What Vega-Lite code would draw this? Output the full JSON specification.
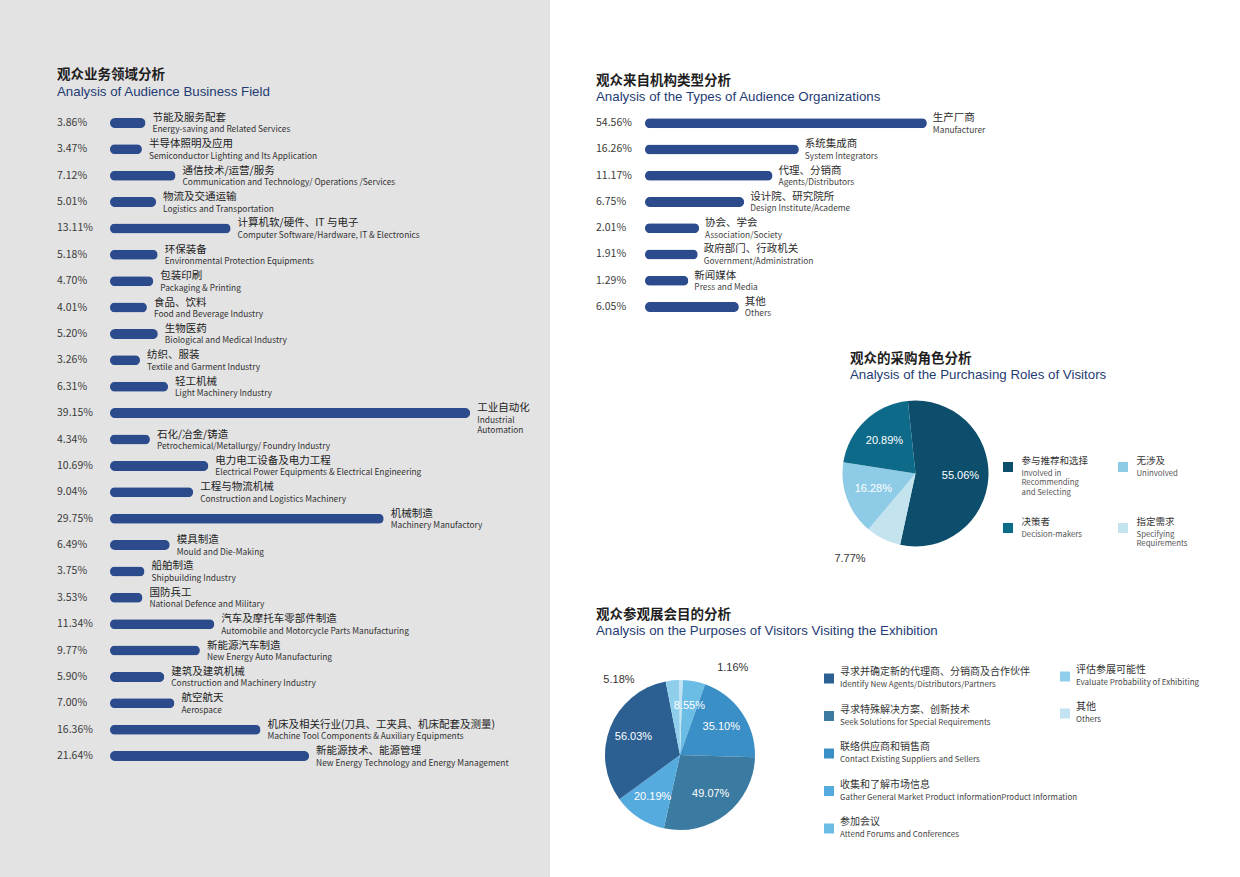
{
  "$schema": "https://vega.github.io/schema/vega-lite/v6.json",
  "background": "#ffffff",
  "padding": 0,
  "spacing": 0,
  "resolve": {"scale": {"color": "independent", "theta": "independent"}},
  "config": {
    "view": {"stroke": null},
    "font": "Noto Sans CJK SC",
    "title": {"anchor": "start", "frame": "group", "font": "Noto Sans CJK SC", "fontSize": 13.5, "fontWeight": "bold", "color": "#1e1e1e", "subtitleFont": "Liberation Sans", "subtitleFontSize": 13.3, "subtitleColor": "#1f3b73", "subtitlePadding": 3}
  },
  "datasets": {
    "fields": [
      {"cn": "节能及服务配套", "en": "Energy-saving and Related Services", "pct": 3.86},
      {"cn": "半导体照明及应用", "en": "Semiconductor Lighting and Its Application", "pct": 3.47},
      {"cn": "通信技术/运营/服务", "en": "Communication and Technology/ Operations /Services", "pct": 7.12},
      {"cn": "物流及交通运输", "en": "Logistics and Transportation", "pct": 5.01},
      {"cn": "计算机软/硬件、IT 与电子", "en": "Computer Software/Hardware, IT & Electronics", "pct": 13.11},
      {"cn": "环保装备", "en": "Environmental Protection Equipments", "pct": 5.18},
      {"cn": "包装印刷", "en": "Packaging & Printing", "pct": 4.70},
      {"cn": "食品、饮料", "en": "Food and Beverage Industry", "pct": 4.01},
      {"cn": "生物医药", "en": "Biological and Medical Industry", "pct": 5.20},
      {"cn": "纺织、服装", "en": "Textile and Garment Industry", "pct": 3.26},
      {"cn": "轻工机械", "en": "Light Machinery Industry", "pct": 6.31},
      {"cn": "工业自动化", "en": "Industrial\nAutomation", "pct": 39.15},
      {"cn": "石化/冶金/铸造", "en": "Petrochemical/Metallurgy/ Foundry Industry", "pct": 4.34},
      {"cn": "电力电工设备及电力工程", "en": "Electrical Power Equipments & Electrical Engineering", "pct": 10.69},
      {"cn": "工程与物流机械", "en": "Construction and Logistics Machinery", "pct": 9.04},
      {"cn": "机械制造", "en": "Machinery Manufactory", "pct": 29.75},
      {"cn": "模具制造", "en": "Mould and Die-Making", "pct": 6.49},
      {"cn": "船舶制造", "en": "Shipbuilding Industry", "pct": 3.75},
      {"cn": "国防兵工", "en": "National Defence and Military", "pct": 3.53},
      {"cn": "汽车及摩托车零部件制造", "en": "Automobile and Motorcycle Parts Manufacturing", "pct": 11.34},
      {"cn": "新能源汽车制造", "en": "New Energy Auto Manufacturing", "pct": 9.77},
      {"cn": "建筑及建筑机械", "en": "Construction and Machinery Industry", "pct": 5.90},
      {"cn": "航空航天", "en": "Aerospace", "pct": 7.00},
      {"cn": "机床及相关行业(刀具、工夹具、机床配套及测量)", "en": "Machine Tool Components & Auxiliary Equipments", "pct": 16.36},
      {"cn": "新能源技术、能源管理", "en": "New Energy Technology and Energy Management", "pct": 21.64}
    ],
    "orgs": [
      {"cn": "生产厂商", "en": "Manufacturer", "pct": 54.56},
      {"cn": "系统集成商", "en": "System Integrators", "pct": 16.26},
      {"cn": "代理、分销商", "en": "Agents/Distributors", "pct": 11.17},
      {"cn": "设计院、研究院所", "en": "Design Institute/Academe", "pct": 6.75},
      {"cn": "协会、学会", "en": "Association/Society", "pct": 2.01},
      {"cn": "政府部门、行政机关", "en": "Government/Administration", "pct": 1.91},
      {"cn": "新闻媒体", "en": "Press and Media", "pct": 1.29},
      {"cn": "其他", "en": "Others", "pct": 6.05}
    ],
    "roles": [
      {"cn": "参与推荐和选择", "en": "Involved in\nRecommending\nand Selecting", "pct": 55.06},
      {"cn": "指定需求", "en": "Specifying\nRequirements", "pct": 7.77},
      {"cn": "无涉及", "en": "Uninvolved", "pct": 16.28},
      {"cn": "决策者", "en": "Decision-makers", "pct": 20.89}
    ],
    "purposes": [
      {"cn": "参加会议", "en": "Attend Forums and Conferences", "pct": 8.55},
      {"cn": "联络供应商和销售商", "en": "Contact Existing Suppliers and Sellers", "pct": 35.10},
      {"cn": "寻求特殊解决方案、创新技术", "en": "Seek Solutions for Special Requirements", "pct": 49.07},
      {"cn": "收集和了解市场信息", "en": "Gather General Market Product InformationProduct Information", "pct": 20.19},
      {"cn": "寻求并确定新的代理商、分销商及合作伙伴", "en": "Identify New Agents/Distributors/Partners", "pct": 56.03},
      {"cn": "评估参展可能性", "en": "Evaluate  Probability of Exhibiting", "pct": 5.18},
      {"cn": "其他", "en": "Others", "pct": 1.16}
    ]
  },
  "hconcat": [
    {
      "width": 550,
      "height": 877,
      "view": {"fill": "#e3e3e3", "stroke": null},
      "title": {"text": "观众业务领域分析", "subtitle": "Analysis of Audience Business Field", "dx": 57, "offset": -98},
      "data": {"name": "fields"},
      "transform": [{"calculate": "format(datum.pct, '.2f') + '%'", "as": "pctLabel"}],
      "encoding": {
        "y": {"field": "cn", "type": "nominal", "sort": null, "axis": null, "scale": {"range": [109.8, 769.2], "paddingInner": 0, "paddingOuter": 0}}
      },
      "layer": [
        {
          "mark": {"type": "bar", "size": 10, "cornerRadius": 5, "color": "#2b4b8d"},
          "encoding": {"x": {"field": "pct", "type": "quantitative", "axis": null, "scale": {"domain": [0, 39.15], "range": [110, 478]}}}
        },
        {
          "mark": {"type": "text", "align": "left", "baseline": "middle", "dx": -53, "fontSize": 10.5, "color": "#3a3a3a"},
          "encoding": {"x": {"datum": 0, "type": "quantitative"}, "text": {"field": "pctLabel"}}
        },
        {
          "mark": {"type": "text", "align": "left", "baseline": "middle", "dx": 7, "dy": -5, "fontSize": 10.5, "color": "#222222"},
          "encoding": {"x": {"field": "pct", "type": "quantitative"}, "text": {"field": "cn"}}
        },
        {
          "mark": {"type": "text", "align": "left", "baseline": "top", "dx": 7, "dy": 2.5, "fontSize": 8.4, "lineBreak": "\n", "lineHeight": 10, "color": "#333333"},
          "encoding": {"x": {"field": "pct", "type": "quantitative"}, "text": {"field": "en"}}
        }
      ]
    },
    {
      "spacing": 0,
      "resolve": {"scale": {"color": "independent", "theta": "independent"}},
      "vconcat": [
        {
          "width": 690,
          "height": 340,
          "title": {"text": "观众来自机构类型分析", "subtitle": "Analysis of the Types of Audience Organizations", "dx": 46, "offset": -103.5},
          "data": {"name": "orgs"},
          "transform": [{"calculate": "format(datum.pct, '.2f') + '%'", "as": "pctLabel"}],
          "encoding": {
            "y": {"field": "cn", "type": "nominal", "sort": null, "axis": null, "scale": {"range": [110, 320], "paddingInner": 0, "paddingOuter": 0}}
          },
          "layer": [
            {
              "mark": {"type": "bar", "size": 10, "cornerRadius": 5, "color": "#2b4b8d"},
              "encoding": {"x": {"field": "pct", "type": "quantitative", "axis": null, "scale": {"type": "sqrt", "domain": [0, 54.56], "range": [95, 378]}}}
            },
            {
              "mark": {"type": "text", "align": "left", "baseline": "middle", "dx": -49, "fontSize": 10.5, "color": "#3a3a3a"},
              "encoding": {"x": {"datum": 0, "type": "quantitative"}, "text": {"field": "pctLabel"}}
            },
            {
              "mark": {"type": "text", "align": "left", "baseline": "middle", "dx": 6, "dy": -5, "fontSize": 10.5, "color": "#2a2a2a"},
              "encoding": {"x": {"field": "pct", "type": "quantitative"}, "text": {"field": "cn"}}
            },
            {
              "mark": {"type": "text", "align": "left", "baseline": "top", "dx": 6, "dy": 2.5, "fontSize": 8.4, "color": "#444444"},
              "encoding": {"x": {"field": "pct", "type": "quantitative"}, "text": {"field": "en"}}
            }
          ]
        },
        {
          "title": {"text": "观众的采购角色分析", "subtitle": "Analysis of the Purchasing Roles of Visitors", "dx": 300, "offset": -41.5},
          "spacing": 0,
          "bounds": "flush",
          "hconcat": [
            {"width": 290, "height": 10, "data": {"values": []}, "mark": "point"},
            {
              "width": 151,
              "height": 267,
              "data": {"name": "roles"},
              "transform": [
                {"window": [{"op": "row_number", "as": "ord"}]},
                {"calculate": "format(datum.pct, '.2f') + '%'", "as": "pctLabel"}
              ],
              "encoding": {
                "theta": {"field": "pct", "type": "quantitative", "stack": true, "scale": {"range": [-0.105, 6.178]}},
                "order": {"field": "ord", "type": "quantitative"},
                "color": {"field": "cn", "type": "nominal", "legend": null, "scale": {"domain": ["参与推荐和选择", "决策者", "无涉及", "指定需求"], "range": ["#0c4e6b", "#0d6a89", "#8ecbe6", "#c3e3ef"]}}
              },
              "layer": [
                {"mark": {"type": "arc", "outerRadius": 73}},
                {
                  "mark": {"type": "text", "radius": 45, "fontSize": 11, "font": "Liberation Sans"},
                  "encoding": {"color": {"value": "#ffffff"}, "text": {"condition": {"test": "datum.pct >= 10", "field": "pctLabel"}, "value": ""}}
                },
                {
                  "mark": {"type": "text", "radius": 95, "align": "right", "dx": -8, "fontSize": 11, "font": "Liberation Sans"},
                  "encoding": {"color": {"value": "#333333"}, "text": {"condition": {"test": "datum.pct < 10", "field": "pctLabel"}, "value": ""}}
                }
              ]
            },
            {"width": 12, "height": 10, "data": {"values": []}, "mark": "point"},
            {
              "width": 10,
              "height": 267,
              "data": {"name": "roles"},
              "transform": [{"filter": {"field": "cn", "oneOf": ["参与推荐和选择", "决策者"]}}],
              "encoding": {"y": {"field": "cn", "type": "nominal", "sort": ["参与推荐和选择", "决策者"], "axis": null, "scale": {"range": [96.5, 218.5], "paddingInner": 0, "paddingOuter": 0}}},
              "layer": [
                {"mark": {"type": "point", "shape": "square", "size": 100, "filled": true, "opacity": 1}, "encoding": {"color": {"field": "cn", "type": "nominal", "legend": null, "scale": {"domain": ["参与推荐和选择", "决策者", "无涉及", "指定需求"], "range": ["#0c4e6b", "#0d6a89", "#8ecbe6", "#c3e3ef"]}}}},
                {"mark": {"type": "text", "align": "left", "baseline": "middle", "dx": 13.5, "dy": -6, "fontSize": 9.5, "color": "#333333"}, "encoding": {"text": {"field": "cn"}}},
                {"mark": {"type": "text", "align": "left", "baseline": "top", "dx": 13.5, "dy": 2.5, "fontSize": 7.8, "lineBreak": "\n", "lineHeight": 9.8, "color": "#555555"}, "encoding": {"text": {"field": "en"}}}
              ]
            },
            {"width": 105, "height": 10, "data": {"values": []}, "mark": "point"},
            {
              "width": 10,
              "height": 267,
              "data": {"name": "roles"},
              "transform": [{"filter": {"field": "cn", "oneOf": ["无涉及", "指定需求"]}}],
              "encoding": {"y": {"field": "cn", "type": "nominal", "sort": ["无涉及", "指定需求"], "axis": null, "scale": {"range": [96.5, 218.5], "paddingInner": 0, "paddingOuter": 0}}},
              "layer": [
                {"mark": {"type": "point", "shape": "square", "size": 100, "filled": true, "opacity": 1}, "encoding": {"color": {"field": "cn", "type": "nominal", "legend": null, "scale": {"domain": ["参与推荐和选择", "决策者", "无涉及", "指定需求"], "range": ["#0c4e6b", "#0d6a89", "#8ecbe6", "#c3e3ef"]}}}},
                {"mark": {"type": "text", "align": "left", "baseline": "middle", "dx": 13.5, "dy": -6, "fontSize": 9.5, "color": "#333333"}, "encoding": {"text": {"field": "cn"}}},
                {"mark": {"type": "text", "align": "left", "baseline": "top", "dx": 13.5, "dy": 2.5, "fontSize": 7.8, "lineBreak": "\n", "lineHeight": 9.8, "color": "#555555"}, "encoding": {"text": {"field": "en"}}}
              ]
            }
          ]
        },
        {
          "title": {"text": "观众参观展会目的分析", "subtitle": "Analysis on the Purposes of Visitors Visiting the Exhibition", "dx": 46, "offset": 2.5},
          "spacing": 0,
          "bounds": "flush",
          "hconcat": [
            {
              "width": 260,
              "height": 230,
              "data": {"name": "purposes"},
              "transform": [
                {"window": [{"op": "row_number", "as": "ord"}]},
                {"calculate": "format(datum.pct, '.2f') + '%'", "as": "pctLabel"}
              ],
              "encoding": {
                "theta": {"field": "pct", "type": "quantitative", "stack": true, "scale": {"range": [0.035, 6.318]}},
                "order": {"field": "ord", "type": "quantitative"},
                "color": {"field": "cn", "type": "nominal", "legend": null, "scale": {"domain": ["寻求并确定新的代理商、分销商及合作伙伴", "寻求特殊解决方案、创新技术", "联络供应商和销售商", "收集和了解市场信息", "参加会议", "评估参展可能性", "其他"], "range": ["#2c6093", "#3b7ba1", "#3a8fc6", "#55aade", "#6cbde6", "#8fcfec", "#c2e3f2"]}}
              },
              "layer": [
                {"mark": {"type": "arc", "outerRadius": 75}},
                {
                  "mark": {"type": "text", "radius": 50, "fontSize": 11, "font": "Liberation Sans"},
                  "encoding": {"color": {"value": "#ffffff"}, "text": {"condition": {"test": "datum.pct >= 8", "field": "pctLabel"}, "value": ""}}
                },
                {
                  "mark": {"type": "text", "radius": 85, "align": "right", "dx": -37, "dy": 10, "fontSize": 11, "font": "Liberation Sans"},
                  "encoding": {"color": {"value": "#333333"}, "text": {"condition": {"test": "datum.cn == '评估参展可能性'", "field": "pctLabel"}, "value": ""}}
                },
                {
                  "mark": {"type": "text", "radius": 85, "align": "left", "dx": 36, "dy": -2, "fontSize": 11, "font": "Liberation Sans"},
                  "encoding": {"color": {"value": "#333333"}, "text": {"condition": {"test": "datum.cn == '其他'", "field": "pctLabel"}, "value": ""}}
                }
              ]
            },
            {"width": 14, "height": 10, "data": {"values": []}, "mark": "point"},
            {
              "width": 10,
              "height": 230,
              "data": {"name": "purposes"},
              "transform": [{"filter": {"field": "cn", "oneOf": ["寻求并确定新的代理商、分销商及合作伙伴", "寻求特殊解决方案、创新技术", "联络供应商和销售商", "收集和了解市场信息", "参加会议"]}}],
              "encoding": {"y": {"field": "cn", "type": "nominal", "sort": ["寻求并确定新的代理商、分销商及合作伙伴", "寻求特殊解决方案、创新技术", "联络供应商和销售商", "收集和了解市场信息", "参加会议"], "axis": null, "scale": {"range": [19.75, 207.25], "paddingInner": 0, "paddingOuter": 0}}},
              "layer": [
                {"mark": {"type": "point", "shape": "square", "size": 100, "filled": true, "opacity": 1}, "encoding": {"color": {"field": "cn", "type": "nominal", "legend": null, "scale": {"domain": ["寻求并确定新的代理商、分销商及合作伙伴", "寻求特殊解决方案、创新技术", "联络供应商和销售商", "收集和了解市场信息", "参加会议", "评估参展可能性", "其他"], "range": ["#2c6093", "#3b7ba1", "#3a8fc6", "#55aade", "#6cbde6", "#8fcfec", "#c2e3f2"]}}}},
                {"mark": {"type": "text", "align": "left", "baseline": "middle", "dx": 11, "dy": -6.5, "fontSize": 10, "color": "#333333"}, "encoding": {"text": {"field": "cn"}}},
                {"mark": {"type": "text", "align": "left", "baseline": "top", "dx": 11, "dy": 2.5, "fontSize": 8, "color": "#444444"}, "encoding": {"text": {"field": "en"}}}
              ]
            },
            {"width": 226, "height": 10, "data": {"values": []}, "mark": "point"},
            {
              "width": 10,
              "height": 230,
              "data": {"name": "purposes"},
              "transform": [{"filter": {"field": "cn", "oneOf": ["评估参展可能性", "其他"]}}],
              "encoding": {"y": {"field": "cn", "type": "nominal", "sort": ["评估参展可能性", "其他"], "axis": null, "scale": {"range": [18, 92], "paddingInner": 0, "paddingOuter": 0}}},
              "layer": [
                {"mark": {"type": "point", "shape": "square", "size": 100, "filled": true, "opacity": 1}, "encoding": {"color": {"field": "cn", "type": "nominal", "legend": null, "scale": {"domain": ["寻求并确定新的代理商、分销商及合作伙伴", "寻求特殊解决方案、创新技术", "联络供应商和销售商", "收集和了解市场信息", "参加会议", "评估参展可能性", "其他"], "range": ["#2c6093", "#3b7ba1", "#3a8fc6", "#55aade", "#6cbde6", "#8fcfec", "#c2e3f2"]}}}},
                {"mark": {"type": "text", "align": "left", "baseline": "middle", "dx": 11, "dy": -6.5, "fontSize": 10, "color": "#333333"}, "encoding": {"text": {"field": "cn"}}},
                {"mark": {"type": "text", "align": "left", "baseline": "top", "dx": 11, "dy": 2.5, "fontSize": 8, "color": "#444444"}, "encoding": {"text": {"field": "en"}}}
              ]
            }
          ]
        }
      ]
    }
  ]
}
